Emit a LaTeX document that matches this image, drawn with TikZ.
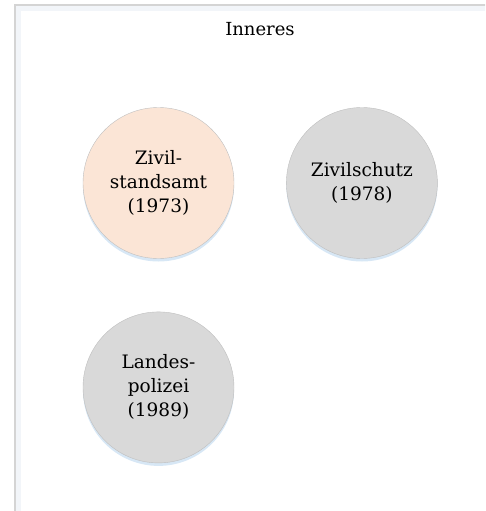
\documentclass[tikz,border=0pt]{standalone}
\usepackage{fontspec}
\setmainfont{DejaVu Serif}
\usetikzlibrary{positioning,shadows}
\definecolor{Frame}{HTML}{D4D4D4}
\definecolor{Glow}{HTML}{F2F5F9}
\definecolor{Peach}{HTML}{FBE5D6}
\definecolor{Ash}{HTML}{D9D9D9}
\definecolor{Rim}{HTML}{BFBFBF}
\definecolor{Haze}{HTML}{BDD7EE}

\begin{document}
\begin{tikzpicture}[x=1pt,y=1pt,
  unit/.style={circle,draw=Rim,fill=#1,minimum size=151pt,inner sep=0pt,align=center,font=\fontsize{18.5}{24}\selectfont,drop shadow={fill=Haze,opacity=.6,shadow xshift=0pt,shadow yshift=-3pt}},
  title/.style={font=\fontsize{18}{21}\selectfont}
]
\useasboundingbox (0,0) rectangle (485,-511);
\clip (0,0) rectangle (485,-511);
\draw[Glow,line width=5pt] (18.5,-560) -- (18.5,-8.5) -- (540,-8.5);
\draw[Frame,line width=1.2pt] (15,-560) -- (15,-5) -- (540,-5);
\node[title] (head) at (260,-29) {Inneres};
\node[unit=Peach] (amt) at (158.5,-183) {Zivil-\\standsamt\\(1973)};
\node[unit=Ash,right=52pt of amt] (schutz) {Zivilschutz\\(1978)};
\node[unit=Ash,below=53pt of amt] (polizei) {Landes-\\polizei\\(1989)};
\end{tikzpicture}
\end{document}
